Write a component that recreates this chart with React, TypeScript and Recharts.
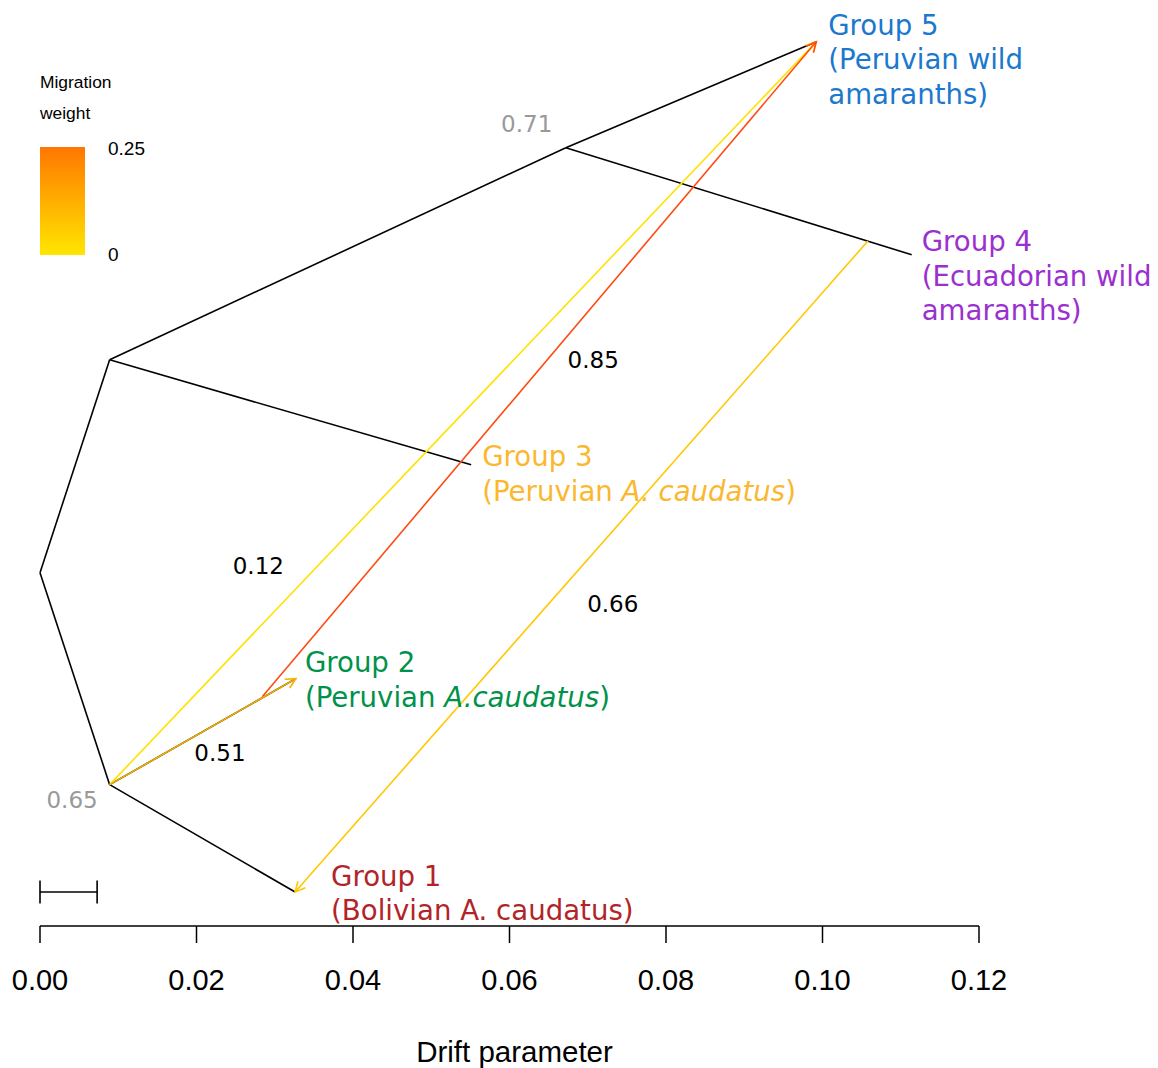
import React from 'react';
import { LineChart, Line, XAxis, YAxis, ReferenceDot, ReferenceLine } from 'recharts';

// tree nodes: drift (x) and vertical layout position (y, 0..1)
const nodeNames = ['root', 'A', 'B', 'C', 'G1', 'G2', 'G3', 'G4', 'G5'];
const nodeDrift = [0, 0.0089, 0.0089, 0.0672, 0.0326, 0.0327, 0.0551, 0.1114, 0.0992];
const nodeY = [0.39, 0.625, 0.156, 0.859, 0.0375, 0.273, 0.509, 0.741, 0.976];

const treeEdges = [
  ['root', 'A'],
  ['root', 'B'],
  ['A', 'C'],
  ['C', 'G5'],
  ['C', 'G4'],
  ['A', 'G3'],
  ['B', 'G2'],
  ['B', 'G1'],
];

// migration edges (start point on a branch -> target tip)
const migFromDrift = [0.0089, 0.0284, 0.1058, 0.0089];
const migFromY = [0.156, 0.253, 0.756, 0.156];
const migTo = ['G5', 'G5', 'G1', 'G2'];
const migColors = ['#FFE200', '#FF4A10', '#FFC800', '#F5B000'];

// edge labels
const edgeLabels = ['0.12', '0.85', '0.66', '0.51', '0.71', '0.65'];
const edgeLabelDrift = [0.0279, 0.0707, 0.0732, 0.023, 0.0622, 0.0041];
const edgeLabelY = [0.397, 0.625, 0.355, 0.191, 0.885, 0.139];
const edgeLabelColors = ['#000', '#000', '#000', '#000', '#999', '#999'];

const xTicks = [0, 0.02, 0.04, 0.06, 0.08, 0.1, 0.12];

// scale bar
const scaleBarLength = 0.0073;
const scaleBarY = 0.0375;

type Seg = { text: string; italic?: boolean };
const groupLabels: { node: string; color: string; dx: number; dy: number; lines: Seg[][] }[] = [
  {
    node: 'G5', color: '#1B78CC', dx: 12, dy: -7,
    lines: [[{ text: 'Group 5' }], [{ text: '(Peruvian wild' }], [{ text: 'amaranths)' }]],
  },
  {
    node: 'G4', color: '#9B30D0', dx: 10, dy: -3.5,
    lines: [[{ text: 'Group 4' }], [{ text: '(Ecuadorian wild' }], [{ text: 'amaranths)' }]],
  },
  {
    node: 'G3', color: '#FBB72E', dx: 11, dy: 1.5,
    lines: [[{ text: 'Group 3' }], [{ text: '(Peruvian ' }, { text: 'A. caudatus', italic: true }, { text: ')' }]],
  },
  {
    node: 'G2', color: '#00924A', dx: 9, dy: -6.5,
    lines: [[{ text: 'Group 2' }], [{ text: '(Peruvian ' }, { text: 'A.caudatus', italic: true }, { text: ')' }]],
  },
  {
    node: 'G1', color: '#B22428', dx: 36, dy: -6.5,
    lines: [[{ text: 'Group 1' }], [{ text: '(Bolivian A. caudatus)' }]],
  },
];

const dejavu = '"DejaVu Sans", Verdana, sans-serif';
const arial = '"Liberation Sans", Arial, sans-serif';

function node(name: string) {
  const i = nodeNames.indexOf(name);
  return { x: nodeDrift[i], y: nodeY[i] };
}

export default function App() {
  return (
    <div style={{ position: 'relative', width: 1150, height: 1060 }}>
      <LineChart
        width={1150}
        height={1060}
        margin={{ top: 12, right: 179, left: 32, bottom: 0 }}
      >
        <defs>
          {migColors.map((c, i) => (
            <marker
              key={i}
              id={`arrow-${i}`}
              markerUnits="userSpaceOnUse"
              markerWidth={14}
              markerHeight={14}
              viewBox="0 0 14 14"
              refX={12}
              refY={7}
              orient="auto"
            >
              <path d="M2,2 L12,7 L2,12" fill="none" stroke={c} strokeWidth={1.6} />
            </marker>
          ))}
        </defs>
        <XAxis
          type="number"
          dataKey="x"
          domain={[0, 0.12]}
          ticks={xTicks}
          interval={0}
          tickFormatter={(v: number) => v.toFixed(2)}
          height={142}
          tickSize={17}
          tickMargin={26}
          axisLine={{ stroke: '#000', strokeWidth: 1.5 }}
          tickLine={{ stroke: '#000', strokeWidth: 1.5 }}
          tick={{ fill: '#000', fontSize: 29, fontFamily: arial }}
          label={{
            value: 'Drift parameter',
            position: 'insideBottom',
            offset: 6,
            dx: 5,
            fill: '#000',
            fontSize: 29.5,
            fontFamily: arial,
          }}
        />
        <YAxis type="number" dataKey="y" domain={[0, 1]} hide />

        {treeEdges.map(([a, b], i) => (
          <Line
            key={`t${i}`}
            data={[node(a), node(b)]}
            dataKey="y"
            type="linear"
            stroke="#000"
            strokeWidth={1.6}
            dot={false}
            activeDot={false}
            isAnimationActive={false}
          />
        ))}

        {migTo.map((to, i) => (
          <Line
            key={`m${i}`}
            data={[{ x: migFromDrift[i], y: migFromY[i] }, node(to)]}
            dataKey="y"
            type="linear"
            stroke={migColors[i]}
            strokeWidth={1.6}
            markerEnd={`url(#arrow-${i})`}
            dot={false}
            activeDot={false}
            isAnimationActive={false}
          />
        ))}

        {/* scale bar */}
        <ReferenceLine
          segment={[{ x: 0, y: scaleBarY }, { x: scaleBarLength, y: scaleBarY }]}
          stroke="#000"
          strokeWidth={1.6}
          ifOverflow="visible"
        />
        <ReferenceLine
          segment={[{ x: 0, y: scaleBarY - 0.0127 }, { x: 0, y: scaleBarY + 0.0127 }]}
          stroke="#000"
          strokeWidth={1.6}
          ifOverflow="visible"
        />
        <ReferenceLine
          segment={[{ x: scaleBarLength, y: scaleBarY - 0.0127 }, { x: scaleBarLength, y: scaleBarY + 0.0127 }]}
          stroke="#000"
          strokeWidth={1.6}
          ifOverflow="visible"
        />

        {edgeLabels.map((t, i) => (
          <ReferenceDot
            key={`e${i}`}
            x={edgeLabelDrift[i]}
            y={edgeLabelY[i]}
            r={0}
            ifOverflow="visible"
            shape={(p: any) => (
              <text
                x={p.cx}
                y={p.cy}
                textAnchor="middle"
                dominantBaseline="central"
                fill={edgeLabelColors[i]}
                fontSize={23}
                fontFamily={dejavu}
              >
                {t}
              </text>
            )}
          />
        ))}

        {groupLabels.map((g) => {
          const n = node(g.node);
          return (
            <ReferenceDot
              key={g.node}
              x={n.x}
              y={n.y}
              r={0}
              ifOverflow="visible"
              shape={(p: any) => (
                <text
                  x={p.cx + g.dx}
                  y={p.cy + g.dy}
                  fill={g.color}
                  fontSize={27.6}
                  fontFamily={dejavu}
                >
                  {g.lines.map((line, li) => (
                    <tspan key={li} x={p.cx + g.dx} dy={li === 0 ? 0 : 34.5}>
                      {line.map((s, si) => (
                        <tspan key={si} fontStyle={s.italic ? 'italic' : 'normal'}>
                          {s.text}
                        </tspan>
                      ))}
                    </tspan>
                  ))}
                </text>
              )}
            />
          );
        })}
      </LineChart>

      {/* migration weight legend */}
      <svg
        width={200}
        height={270}
        style={{ position: 'absolute', left: 0, top: 0, pointerEvents: 'none' }}
      >
        <defs>
          <linearGradient id="migGrad" x1="0" y1="0" x2="0" y2="1">
            <stop offset="0%" stopColor="#FF7700" />
            <stop offset="100%" stopColor="#FFE600" />
          </linearGradient>
        </defs>
        <text x={32} y={80} fontSize={17.4} fontFamily={arial} fill="#000">Migration</text>
        <text x={32} y={111} fontSize={17.4} fontFamily={arial} fill="#000">weight</text>
        <rect x={32} y={139} width={45} height={108} fill="url(#migGrad)" />
        <text x={100} y={146.5} fontSize={19} fontFamily={arial} fill="#000">0.25</text>
        <text x={100} y={252.5} fontSize={19} fontFamily={arial} fill="#000">0</text>
      </svg>
    </div>
  );
}
